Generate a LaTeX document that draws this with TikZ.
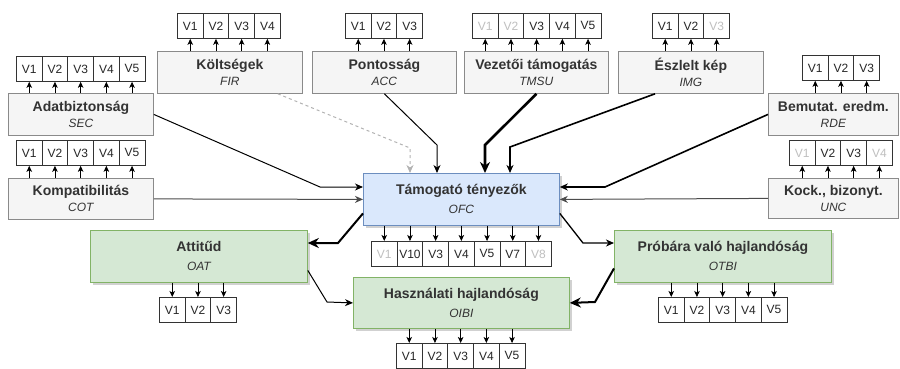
\documentclass[tikz,border=0pt]{standalone}
\usepackage{fontspec}
\setmainfont{Liberation Sans}
\usetikzlibrary{arrows.meta,positioning,shadows}
\definecolor{grayfill}{HTML}{F5F5F5}
\definecolor{grayline}{HTML}{8A8A8A}
\definecolor{bluefill}{HTML}{DAE8FC}
\definecolor{blueline}{HTML}{6C8EBF}
\definecolor{greenfill}{HTML}{D5E8D4}
\definecolor{greenline}{HTML}{82B366}
\definecolor{txt}{HTML}{333333}
\colorlet{vtxt}{black!85}
\colorlet{vdim}{black!25}
\newcommand{\boxtitle}[1]{{\fontsize{14}{16}\selectfont\bfseries #1}}
\newcommand{\boxcode}[1]{{\fontsize{12}{13}\selectfont\itshape #1}}
% indicator rows above / below a factor
\newcommand{\vup}[4]{\foreach \lbl/\col [count=\i] in {#4}{
  \node[vcell,text=\col] (#1v\i) at ({#2+(\i-1)*25.7},#3) {\lbl};
  \draw[vtip] (#1.north -| #1v\i) -- (#1v\i.south);}}
\newcommand{\vdown}[4]{\foreach \lbl/\col [count=\i] in {#4}{
  \node[vcell,text=\col] (#1v\i) at ({#2+(\i-1)*25.7},#3) {\lbl};
  \draw[vtip] (#1.south -| #1v\i) -- (#1v\i.north);}}

\begin{document}
\begin{tikzpicture}[x=1pt,y=-1pt,
  factor/.style={draw=grayline,fill=grayfill,line width=0.8pt,anchor=north west,align=center,inner sep=0pt,text=txt},
  latent/.style={factor,drop shadow={shadow xshift=2.5pt,shadow yshift=-2.5pt,opacity=0.3,fill=black!60}},
  vcell/.style={draw=black!80,fill=white,line width=0.8pt,anchor=north west,inner sep=0pt,
    minimum width=25.7pt,minimum height=25pt,font=\fontsize{12}{13}\selectfont},
  vtip/.style={line width=0.8pt,-{Stealth[length=6pt,width=5.5pt,inset=1.5pt]}},
  edge/.style={line width=1pt,-{Stealth[length=8pt,width=7pt,inset=2.5pt]}},
  strong/.style={line width=2pt,-{Stealth[length=11pt,width=10pt,inset=3.5pt]}}]
\useasboundingbox (0,0) rectangle (900,368);
% factors
\node[factor,minimum width=145pt,minimum height=42pt] (fir) at (157,51) {\boxtitle{Költségek}\\[4pt]\boxcode{FIR}};
\node[factor,minimum width=144pt,minimum height=42pt] (acc) at (312,51) {\boxtitle{Pontosság}\\[4pt]\boxcode{ACC}};
\node[factor,minimum width=144pt,minimum height=42pt] (tmsu) at (464,51) {\boxtitle{Vezetői támogatás}\\[4pt]\boxcode{TMSU}};
\node[factor,minimum width=145pt,minimum height=42pt] (img) at (618,51) {\boxtitle{Észlelt kép}\\[4pt]\boxcode{IMG}};
\node[factor,minimum width=145pt,minimum height=42pt] (sec) at (8,93) {\boxtitle{Adatbiztonság}\\[4pt]\boxcode{SEC}};
\node[factor,minimum width=130pt,minimum height=42pt] (rde) at (768,93) {\boxtitle{Bemutat. eredm.}\\[4pt]\boxcode{RDE}};
\node[factor,minimum width=145pt,minimum height=41pt] (cot) at (8,178) {\boxtitle{Kompatibilitás}\\[4pt]\boxcode{COT}};
\node[factor,minimum width=130pt,minimum height=40pt] (unc) at (768,178) {\boxtitle{Kock., bizonyt.}\\[4pt]\boxcode{UNC}};
\node[latent,draw=blueline,fill=bluefill,minimum width=196pt,minimum height=52pt] (ofc) at (363,173) {\boxtitle{Támogató tényezők}\\[7pt]\boxcode{OFC}};
\node[latent,draw=greenline,fill=greenfill,minimum width=217pt,minimum height=52pt] (oat) at (90,230) {\boxtitle{Attitűd}\\[7pt]\boxcode{OAT}};
\node[latent,draw=greenline,fill=greenfill,minimum width=216pt,minimum height=51pt] (oibi) at (353,277) {\boxtitle{Használati hajlandóság}\\[7pt]\boxcode{OIBI}};
\node[latent,draw=greenline,fill=greenfill,minimum width=217pt,minimum height=52pt] (otbi) at (614,230) {\boxtitle{Próbára való hajlandóság}\\[7pt]\boxcode{OTBI}};
% indicators
\vup{fir}{177}{13}{V1/vtxt,V2/vtxt,V3/vtxt,V4/vtxt}
\vup{acc}{345}{13}{V1/vtxt,V2/vtxt,V3/vtxt}
\vup{tmsu}{472}{13}{V1/vdim,V2/vdim,V3/vtxt,V4/vtxt,V5/vtxt}
\vup{img}{652}{13}{V1/vtxt,V2/vtxt,V3/vdim}
\vup{sec}{16}{56}{V1/vtxt,V2/vtxt,V3/vtxt,V4/vtxt,V5/vtxt}
\vup{rde}{802}{55}{V1/vtxt,V2/vtxt,V3/vtxt}
\vup{cot}{16}{140}{V1/vtxt,V2/vtxt,V3/vtxt,V4/vtxt,V5/vtxt}
\vup{unc}{789}{140}{V1/vdim,V2/vtxt,V3/vtxt,V4/vdim}
\vdown{ofc}{371}{241}{V1/vdim,V10/vtxt,V3/vtxt,V4/vtxt,V5/vtxt,V7/vtxt,V8/vdim}
\vdown{oat}{159}{297}{V1/vtxt,V2/vtxt,V3/vtxt}
\vdown{oibi}{396}{343}{V1/vtxt,V2/vtxt,V3/vtxt,V4/vtxt,V5/vtxt}
\vdown{otbi}{658}{297}{V1/vtxt,V2/vtxt,V3/vtxt,V4/vtxt,V5/vtxt}
% paths into the support factor
\draw[edge] (sec.east) -- (320,187) -- (ofc.west |- 0,187);
\draw[edge,black!70] (cot.east) -- (ofc.west);
\draw[edge,black!30,dash pattern=on 3pt off 3pt] ([xshift=-25pt]fir.south east) -- (410,148) -- (ofc.north -| 410,0);
\draw[edge] (acc.south) -- (437,145) -- (ofc.north -| 437,0);
\draw[strong,line width=2.6pt] (tmsu.south) -- (485,145) -- (ofc.north -| 485,0);
\draw[edge,line width=1.6pt] ([xshift=37pt]img.south west) -- (510,147) -- (ofc.north -| 510,0);
\draw[edge,line width=1.6pt] (rde.west) -- (605,187) -- (ofc.east |- 0,187);
\draw[edge,black!70] (unc.west) -- (ofc.east);
% paths between outcomes
\draw[strong] ([yshift=-14pt]ofc.west) -- (338,243) -- (oat.east |- 0,243);
\draw[edge] ([yshift=-14pt]oat.east) -- (327,302) -- (oibi.west);
\draw[edge,line width=1.3pt] ([yshift=-14pt]ofc.east) -- (583,243) -- (otbi.west |- 0,243);
\draw[strong] ([yshift=-12pt]otbi.west) -- (595,302) -- (oibi.east);
\end{tikzpicture}
\end{document}
